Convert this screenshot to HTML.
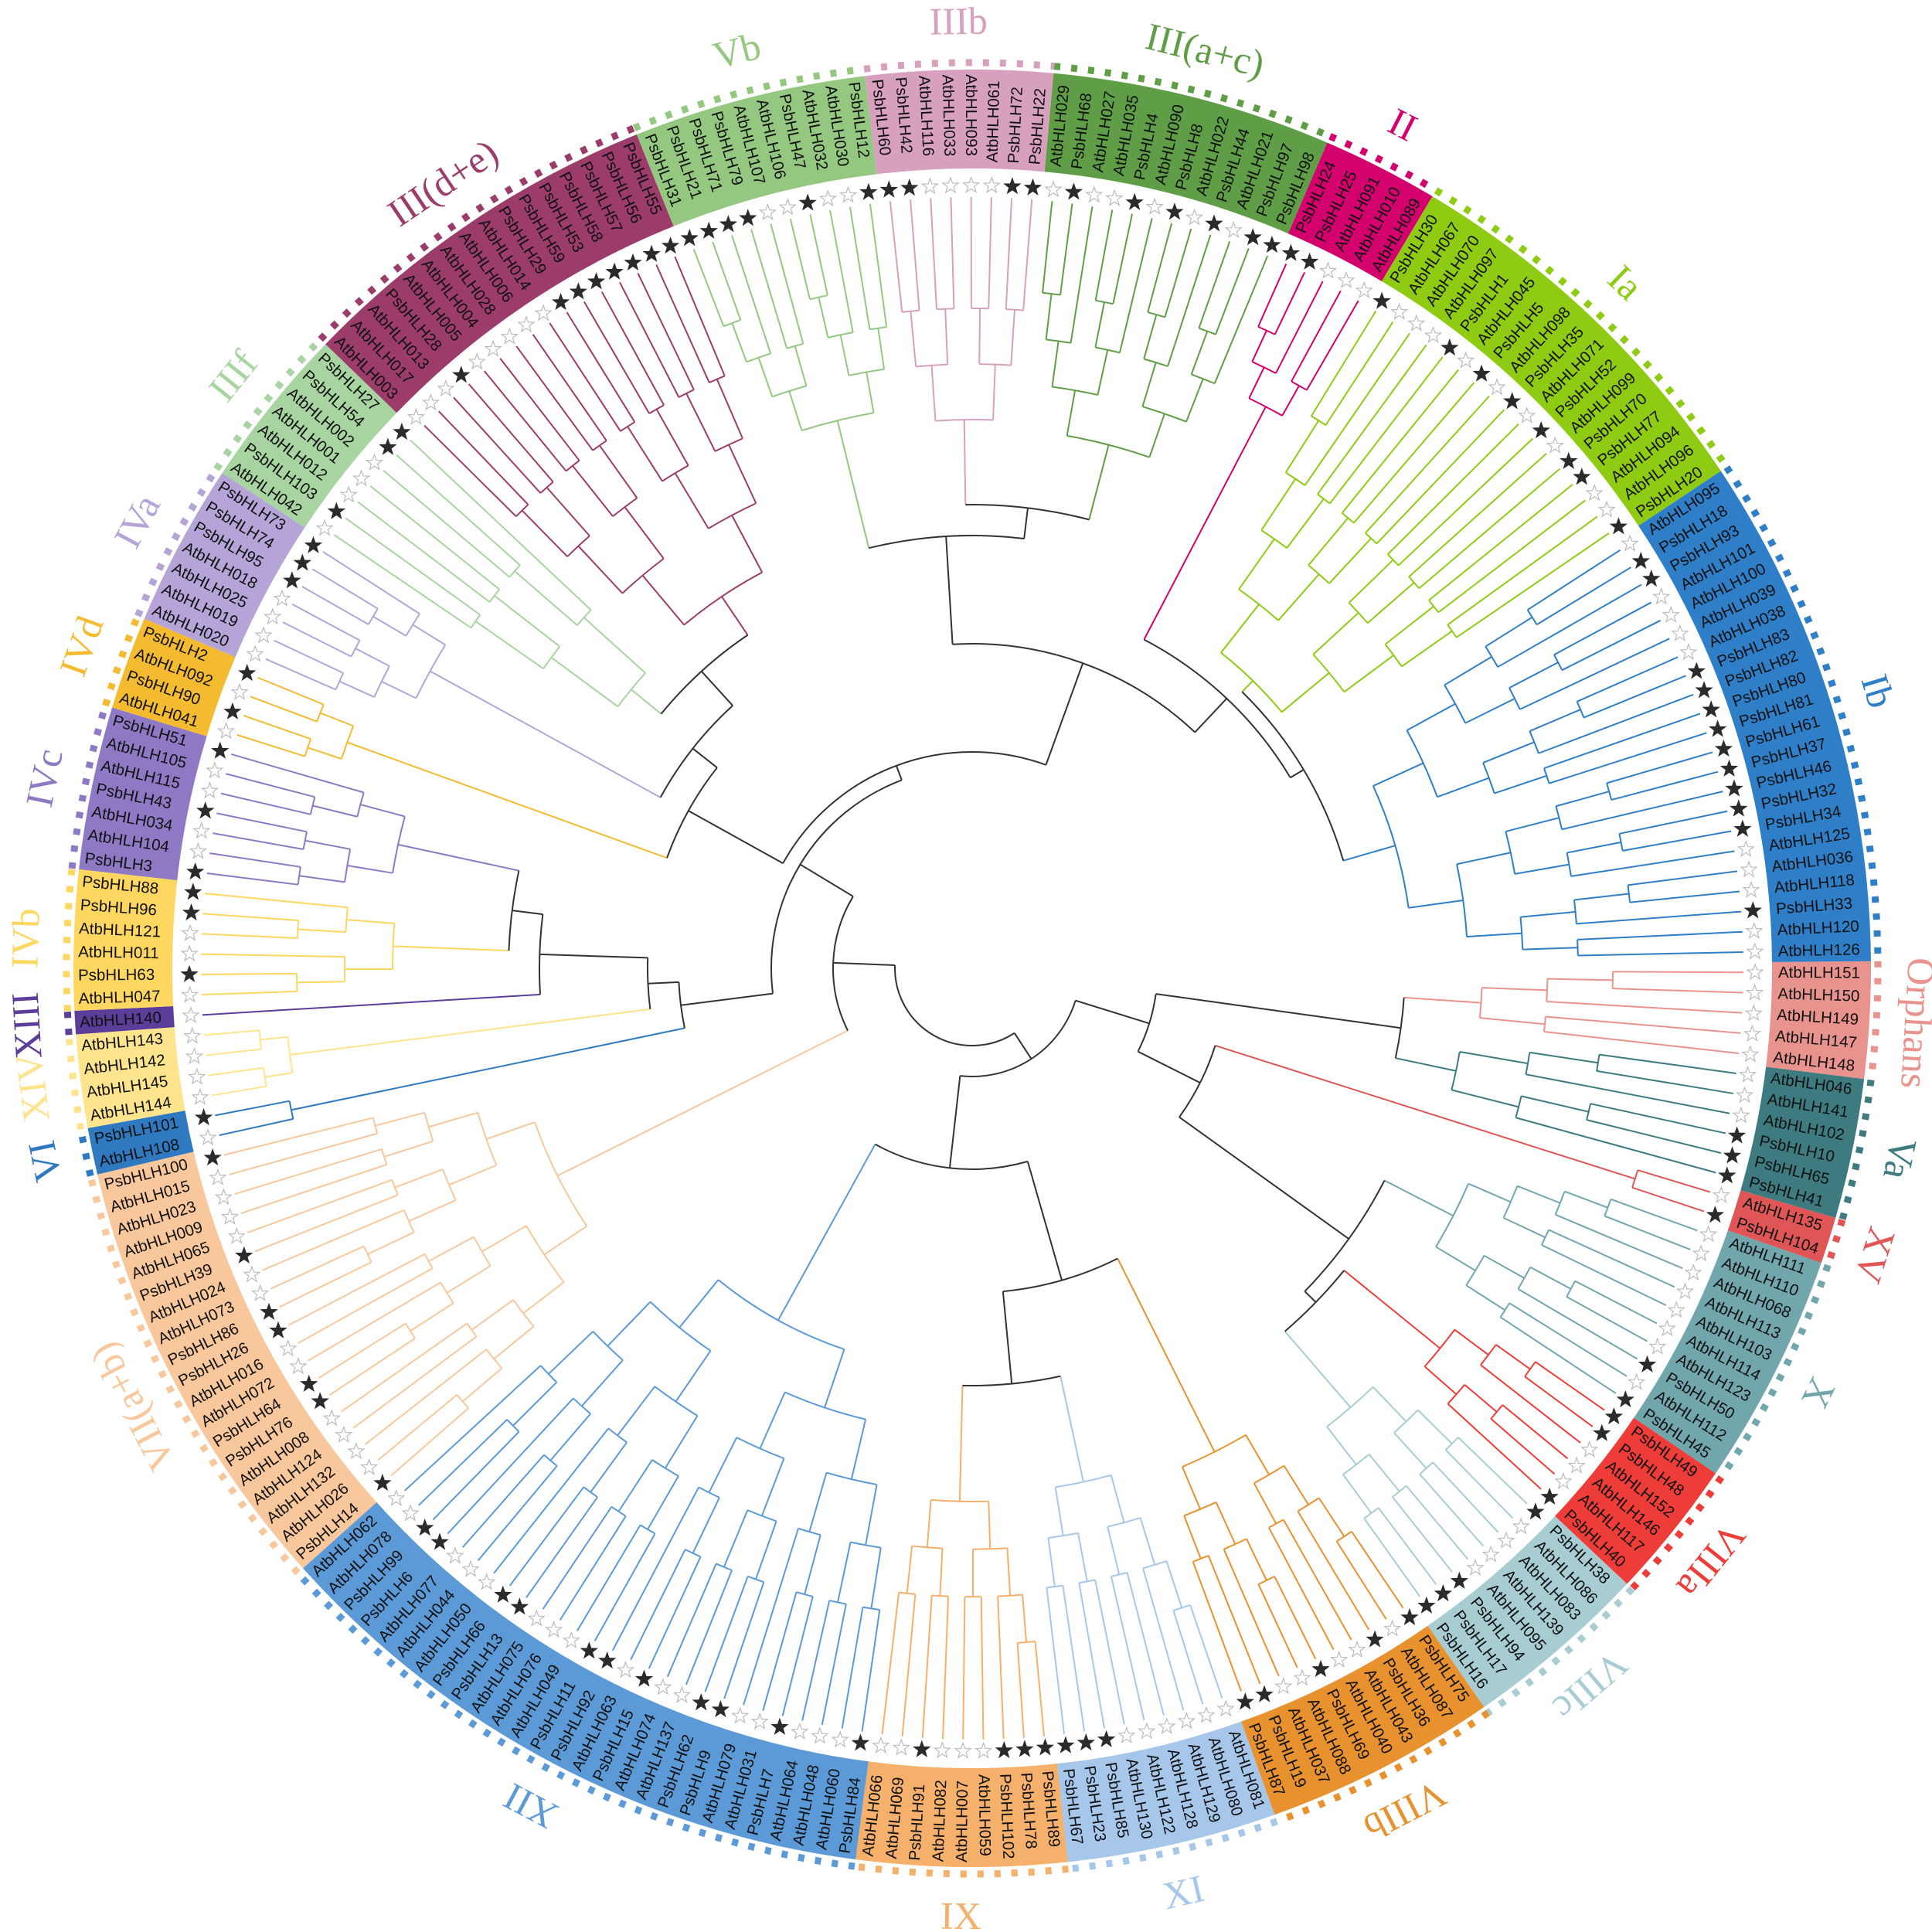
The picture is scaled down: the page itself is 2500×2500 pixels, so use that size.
<!DOCTYPE html>
<html>
<head>
<meta charset="utf-8">
<style>
html,body{margin:0;padding:0;background:#fff;}
svg{display:block;}
.leaf{font-family:"Liberation Sans",sans-serif;font-size:20.5px;fill:#111;}
.glabel{font-family:"Liberation Serif",serif;font-size:50px;}
</style>
</head>
<body>
<svg id="chart" width="2500" height="2500" viewBox="0 0 2500 2500" xmlns="http://www.w3.org/2000/svg">
<g id="tree"></g>
<g id="ring"></g>
<g id="stars"></g>
<g id="arcs"></g>
<g id="glabels"></g>
</svg>
<script>
const groupNames = ["Orphans","Va","XV","X","VIIIa","VIIIc","VIIIb","XI","IX","XII","VII(a+b)","VI","XIV","XIII","IVb","IVc","IVd","IVa","IIIf","III(d+e)","Vb","IIIb","III(a+c)","II","Ia","Ib"];
const groupColors = ["#e8938e","#3d7b80","#e05656","#71a6ad","#ee3d38","#a7cdd2","#e8922f","#a6c6ea","#f5b06c","#5b9ad7","#f8c89c","#2f79c1","#fee48c","#5b3e99","#fed760","#8e79c5","#f4bb31","#b4a4d8","#a8d4a1","#9c3c6b","#94c880","#d7a1be","#5f9e46","#d3006d","#8fcb12","#2e7ec8"];
const groupLeaves = [
["AtbHLH151","AtbHLH150","AtbHLH149","AtbHLH147","AtbHLH148"],
["AtbHLH046","AtbHLH141","AtbHLH102","PsbHLH10","PsbHLH65","PsbHLH41"],
["AtbHLH135","PsbHLH104"],
["AtbHLH111","AtbHLH110","AtbHLH068","AtbHLH113","AtbHLH103","AtbHLH114","AtbHLH123","PsbHLH50","AtbHLH112","PsbHLH45"],
["PsbHLH49","PsbHLH48","AtbHLH152","AtbHLH146","AtbHLH117","PsbHLH40"],
["PsbHLH38","AtbHLH086","AtbHLH083","AtbHLH139","AtbHLH095","PsbHLH94","PsbHLH17","PsbHLH16"],
["PsbHLH75","AtbHLH087","PsbHLH36","AtbHLH043","AtbHLH040","PsbHLH69","AtbHLH088","AtbHLH037","PsbHLH19","PsbHLH87"],
["AtbHLH081","AtbHLH080","AtbHLH129","AtbHLH128","AtbHLH122","AtbHLH130","PsbHLH85","PsbHLH23","PsbHLH67"],
["PsbHLH89","PsbHLH78","PsbHLH102","AtbHLH059","AtbHLH007","AtbHLH082","PsbHLH91","AtbHLH069","AtbHLH066"],
["PsbHLH84","AtbHLH060","AtbHLH048","AtbHLH064","PsbHLH7","AtbHLH031","AtbHLH079","PsbHLH9","PsbHLH62","AtbHLH137","AtbHLH074","PsbHLH15","AtbHLH063","PsbHLH92","PsbHLH11","AtbHLH049","AtbHLH076","AtbHLH075","PsbHLH13","PsbHLH66","AtbHLH050","AtbHLH044","AtbHLH077","PsbHLH6","PsbHLH99","AtbHLH078","AtbHLH062"],
["PsbHLH14","AtbHLH026","AtbHLH132","AtbHLH124","AtbHLH008","PsbHLH76","PsbHLH64","AtbHLH072","AtbHLH016","PsbHLH26","PsbHLH86","AtbHLH073","AtbHLH024","PsbHLH39","AtbHLH065","AtbHLH009","AtbHLH023","AtbHLH015","PsbHLH100"],
["AtbHLH108","PsbHLH101"],
["AtbHLH144","AtbHLH145","AtbHLH142","AtbHLH143"],
["AtbHLH140"],
["AtbHLH047","PsbHLH63","AtbHLH011","AtbHLH121","PsbHLH96","PsbHLH88"],
["PsbHLH3","AtbHLH104","AtbHLH034","PsbHLH43","AtbHLH115","AtbHLH105","PsbHLH51"],
["AtbHLH041","PsbHLH90","AtbHLH092","PsbHLH2"],
["AtbHLH020","AtbHLH019","AtbHLH025","AtbHLH018","PsbHLH95","PsbHLH74","PsbHLH73"],
["AtbHLH042","PsbHLH103","AtbHLH012","AtbHLH001","AtbHLH002","PsbHLH54","PsbHLH27"],
["AtbHLH003","AtbHLH017","AtbHLH013","PsbHLH28","AtbHLH005","AtbHLH004","AtbHLH028","AtbHLH006","AtbHLH014","PsbHLH29","PsbHLH59","PsbHLH53","PsbHLH58","PsbHLH57","PsbHLH56","PsbHLH55"],
["PsbHLH31","PsbHLH21","PsbHLH71","PsbHLH79","AtbHLH107","AtbHLH106","PsbHLH47","AtbHLH032","AtbHLH030","PsbHLH12"],
["PsbHLH60","PsbHLH42","AtbHLH116","AtbHLH033","AtbHLH093","AtbHLH061","PsbHLH72","PsbHLH22"],
["AtbHLH029","PsbHLH68","AtbHLH027","AtbHLH035","PsbHLH4","AtbHLH090","PsbHLH8","AtbHLH022","PsbHLH44","AtbHLH021","PsbHLH97","PsbHLH98"],
["PsbHLH24","PsbHLH25","AtbHLH091","AtbHLH010","AtbHLH089"],
["PsbHLH30","AtbHLH067","AtbHLH070","AtbHLH097","PsbHLH1","AtbHLH045","PsbHLH5","AtbHLH098","PsbHLH35","AtbHLH071","PsbHLH52","AtbHLH099","PsbHLH70","PsbHLH77","AtbHLH094","AtbHLH096","PsbHLH20"],
["AtbHLH095","PsbHLH18","PsbHLH93","AtbHLH101","AtbHLH100","AtbHLH039","AtbHLH038","PsbHLH83","PsbHLH82","PsbHLH80","PsbHLH81","PsbHLH61","PsbHLH37","PsbHLH46","PsbHLH32","PsbHLH34","AtbHLH125","AtbHLH036","AtbHLH118","PsbHLH33","AtbHLH120","AtbHLH126"]
];
// clade crown depth (distance from centre where the clade starts splitting)
const groupDepth = [660,640,900,700,780,750,700,680,690,520,600,900,890,1000,750,760,860,800,570,580,730,710,700,820,520,570];
// backbone topology: [depth, children...]; strings are group names
const backbone = [100,
  [140,
    [180, "VII(a+b)",
      [260,
        [380, "VI", [420, "XIV", [560, "XIII", [600, "IVb", "IVc"]]]],
        [280,
          [420, "IVd", [460, "IVa", [520, "IIIf", "III(d+e)"]]],
          [420, [560, "Vb", [600, "IIIb", "III(a+c)"]], [480, "II", [500, "Ia", "Ib"]]]
        ]
      ]
    ]
  ],
  [140,
    [240, [560, "Orphans", "Va"], [330, "XV", [600, "X", [620, "VIIIa", "VIIIc"]]]],
    [260, [420, "VIIIb", [540, "XI", "IX"]], "XII"]
  ]
];
const uprightLabels = ["IX","XI"];

const CX = 1258, CY = 1253;
const R_IN = 1035, R_OUT = 1163, R_STAR = 1013, R_LEAF = 998, R_ARC = 1172, R_GL = 1226;
const NS = "http://www.w3.org/2000/svg";
let total = 0; groupLeaves.forEach(g => total += g.length);
const STEP = 360 / total, A0 = 0.3;
const rad = d => d * Math.PI / 180;
const pt = (r, a) => [CX + r * Math.cos(rad(a)), CY + r * Math.sin(rad(a))];
function el(tag, attrs, parent) { const e = document.createElementNS(NS, tag); for (const k in attrs) e.setAttribute(k, attrs[k]); parent.appendChild(e); return e; }
function arcPath(r, a1, a2) {
  const p1 = pt(r, a1), p2 = pt(r, a2);
  return `M${p1[0]},${p1[1]} A${r},${r} 0 ${(a2 - a1) > 180 ? 1 : 0} 1 ${p2[0]},${p2[1]}`;
}
const tree = document.getElementById('tree'), ring = document.getElementById('ring'),
  stars = document.getElementById('stars'), arcs = document.getElementById('arcs'), glabels = document.getElementById('glabels');

const groupNodes = {};
let idx = 0;
groupLeaves.forEach((leaves, gi) => {
  const col = groupColors[gi];
  const first = idx;
  const angles = leaves.map((_, j) => A0 + (first + j) * STEP);
  idx += leaves.length;
  const aStart = angles[0] - STEP / 2, aEnd = angles[angles.length - 1] + STEP / 2;
  const pi1 = pt(R_IN, aStart), po1 = pt(R_OUT, aStart), po2 = pt(R_OUT, aEnd), pi2 = pt(R_IN, aEnd);
  const seg = el('path', { d: `M${pi1} L${po1} A${R_OUT},${R_OUT} 0 0 1 ${po2} L${pi2} A${R_IN},${R_IN} 0 0 0 ${pi1} Z`, fill: col }, ring);
  
  
  leaves.forEach((name, j) => {
    const a = angles[j];
    const na = ((a % 360) + 360) % 360;
    const left = na > 90 && na < 270;
    const t = el('text', { class: 'leaf', 'dominant-baseline': 'central' }, ring);
    if (!left) { t.setAttribute('transform', `translate(${CX},${CY}) rotate(${a})`); t.setAttribute('x', R_IN + 8); t.setAttribute('text-anchor', 'start'); }
    else { t.setAttribute('transform', `translate(${CX},${CY}) rotate(${a + 180})`); t.setAttribute('x', -(R_OUT - 6)); t.setAttribute('text-anchor', 'start'); }
    t.textContent = name;
    
    
    const [sx, sy] = pt(R_STAR, a);
    let pts = [];
    for (let k = 0; k < 10; k++) { const rr = k % 2 ? 4.3 : 10.5; const aa = -90 + k * 36; pts.push((sx + rr * Math.cos(rad(aa))).toFixed(1) + ',' + (sy + rr * Math.sin(rad(aa))).toFixed(1)); }
    const black = name.startsWith('Psb');
    const s = el('polygon', { points: pts.join(' '), fill: black ? '#2b2b2b' : '#fff', stroke: black ? '#2b2b2b' : '#bbb', 'stroke-width': 1.2 }, stars);
    
    
  });
  const da = el('path', { d: arcPath(R_ARC, aStart, aEnd), fill: 'none', stroke: col, 'stroke-width': 9, 'stroke-dasharray': '8 14' }, arcs);
  
  
  const am = (aStart + aEnd) / 2;
  const [lx, ly] = pt(R_GL, am);
  const rot = uprightLabels.includes(groupNames[gi]) ? am - 90 : am + 90;
  const gl = el('text', { class: 'glabel', fill: col, 'text-anchor': 'middle', 'dominant-baseline': 'central', x: lx, y: ly, transform: `rotate(${rot},${lx},${ly})` }, glabels);
  gl.textContent = groupNames[gi];
  
  
  const rootR = groupDepth[gi];
  const D = Math.ceil(Math.log2(Math.max(leaves.length, 1)));
  function build(lo, hi, d) {
    if (lo === hi) return { a: angles[lo], r: R_LEAF, leaf: true };
    const mid = Math.floor((lo + hi) / 2);
    const c1 = build(lo, mid, d + 1), c2 = build(mid + 1, hi, d + 1);
    const r = rootR + (R_LEAF - rootR) * d / (D + 1);
    return { a: (c1.a + c2.a) / 2, r, kids: [c1, c2] };
  }
  const node = build(0, leaves.length - 1, 0);
  node.color = col;
  drawNode(node, col);
  groupNodes[groupNames[gi]] = node;
});

function drawNode(n, col) {
  if (!n.kids) return;
  const g = el('g', { stroke: col, 'stroke-width': 2, fill: 'none' }, tree);
  n.kids.forEach(k => {
    const p1 = pt(n.r, k.a), p2 = pt(k.r, k.a);
    el('line', { x1: p1[0], y1: p1[1], x2: p2[0], y2: p2[1] }, g);
    drawNode(k, col);
  });
  const as = n.kids.map(k => k.a);
  el('path', { d: arcPath(n.r, Math.min(...as), Math.max(...as)) }, g);
}

function resolve(spec) {
  if (typeof spec === 'string') return groupNodes[spec];
  const r = spec[0];
  const kids = spec.slice(1).map(resolve).sort((p, q) => p.a - q.a);
  return { r, kids, a: (kids[0].a + kids[kids.length - 1].a) / 2, backbone: true };
}
function drawBackbone(n) {
  if (!n.backbone) return;
  const g = el('g', { stroke: '#333', 'stroke-width': 2, fill: 'none' }, tree);
  n.kids.forEach(k => {
    const p1 = pt(n.r, k.a), p2 = pt(k.r, k.a);
    const ln = el('line', { x1: p1[0], y1: p1[1], x2: p2[0], y2: p2[1] }, g);
    if (!k.backbone && k.color) ln.setAttribute('stroke', k.color);
    drawBackbone(k);
  });
  const as = n.kids.map(k => k.a);
  el('path', { d: arcPath(n.r, Math.min(...as), Math.max(...as)) }, g);
}
drawBackbone(resolve(backbone));
</script>
</body>
</html>
